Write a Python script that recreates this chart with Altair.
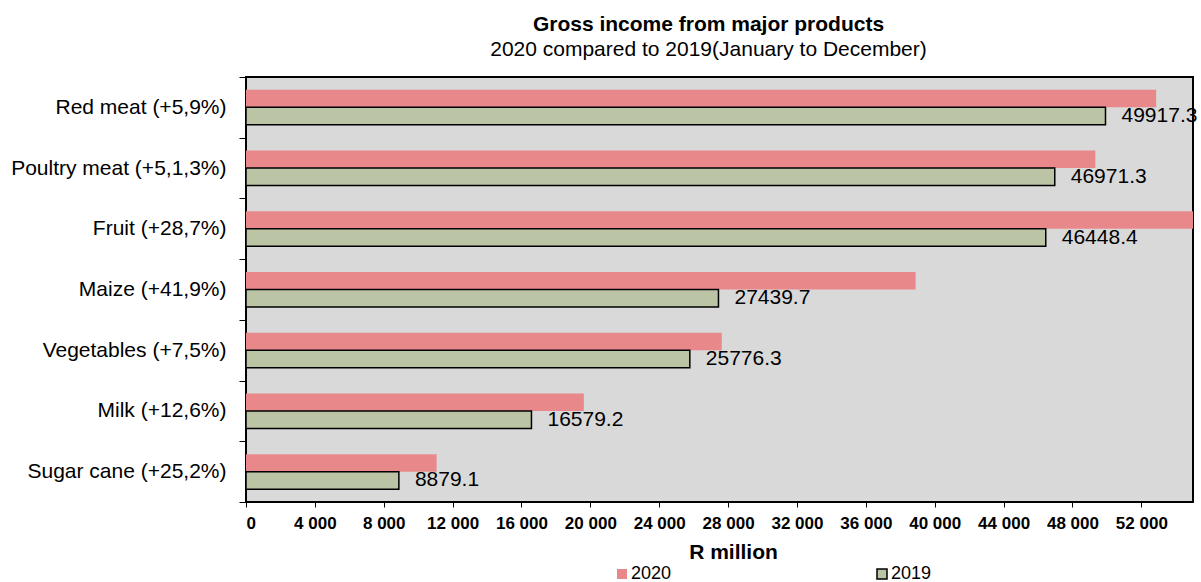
import altair as alt
import pandas as pd

categories = [
    "Red meat (+5,9%)",
    "Poultry meat (+5,1,3%)",
    "Fruit (+28,7%)",
    "Maize (+41,9%)",
    "Vegetables (+7,5%)",
    "Milk (+12,6%)",
    "Sugar cane (+25,2%)",
]
years = ["2020", "2019"]
v2020 = [52860, 49330, 59780, 38890, 27630, 19620, 11070]
v2019 = [49917.3, 46971.3, 46448.4, 27439.7, 25776.3, 16579.2, 8879.1]
x_ticks = list(range(0, 52001, 4000))

rows = []
for c, a, b in zip(categories, v2020, v2019):
    rows.append({"category": c, "year": "2020", "value": a})
    rows.append({"category": c, "year": "2019", "value": b})
df = pd.DataFrame(rows)

FONT = "Liberation Sans"

x = alt.X(
    "value:Q",
    scale=alt.Scale(domain=[0, 55000], nice=False, zero=True),
    axis=alt.Axis(
        values=x_ticks,
        labelExpr="replace(format(datum.value, ','), ',', ' ')",
        title="R million",
        titleFont=FONT,
        titleFontSize=21,
        titleFontWeight="bold",
        titleColor="black",
        titleX=487,
        titleY=56,
        titleAlign="center",
        titleBaseline="alphabetic",
        labelFont=FONT,
        labelFontSize=17,
        labelFontWeight="bold",
        labelColor="black",
        labelPadding=8,
        labelOverlap=False,
        tickColor="black",
        tickSize=5,
        tickWidth=1,
        domain=False,
        grid=False,
    ),
)
y = alt.Y(
    "category:N",
    sort=categories,
    scale=alt.Scale(paddingInner=0, paddingOuter=0),
    axis=alt.Axis(
        title=None,
        tickBand="extent",
        labelFont=FONT,
        labelFontSize=21,
        labelColor="black",
        labelPadding=13,
        labelLimit=400,
        tickColor="black",
        tickSize=7,
        domain=False,
        grid=False,
    ),
)
yoff = alt.YOffset(
    "year:N", sort=years, scale=alt.Scale(domain=years, paddingOuter=0.734, paddingInner=0)
)
legend = alt.Legend(
    orient="none",
    legendX=367,
    legendY=488,
    direction="horizontal",
    title=None,
    symbolType="square",
    symbolSize=100,
    symbolStrokeWidth=1.5,
    labelFont=FONT,
    labelFontSize=18,
    labelColor="black",
    labelOffset=0,
    columnPadding=201,
    padding=0,
)
color = alt.Color(
    "year:N", scale=alt.Scale(domain=years, range=["#E8888A", "#BBC5A6"]), legend=legend
)
stroke = alt.Stroke(
    "year:N", scale=alt.Scale(domain=years, range=["transparent", "#000000"]), legend=legend
)

bars = alt.Chart(df).mark_bar(strokeWidth=1.5, clip=True).encode(
    x=x, y=y, yOffset=yoff, color=color, stroke=stroke
)
labels = (
    alt.Chart(df)
    .transform_filter(alt.datum.year == "2019")
    .mark_text(align="left", baseline="middle", dx=16, font=FONT, fontSize=21, color="black")
    .encode(x=x, y=y, yOffset=yoff, text=alt.Text("value:Q", format=".1f"))
)

chart = (
    alt.layer(bars, labels)
    .properties(
        width=947,
        height=425,
        autosize=alt.AutoSizeParams(type="none"),
        padding={"left": 246, "top": 77, "right": 8, "bottom": 80},
        background="white",
        title=alt.TitleParams(
            text="Gross income from major products",
            subtitle="2020 compared to 2019(January to December)",
            font=FONT,
            fontSize=21,
            fontWeight="bold",
            color="black",
            subtitleFont=FONT,
            subtitleFontSize=21,
            subtitleColor="black",
            subtitlePadding=4,
            anchor="middle",
            dx=-11,
            offset=6,
        ),
    )
    .configure_view(stroke="black", strokeWidth=2, fill="#D9D9D9")
)

chart.save("out.html", embed_options={"renderer": "svg", "actions": False})
